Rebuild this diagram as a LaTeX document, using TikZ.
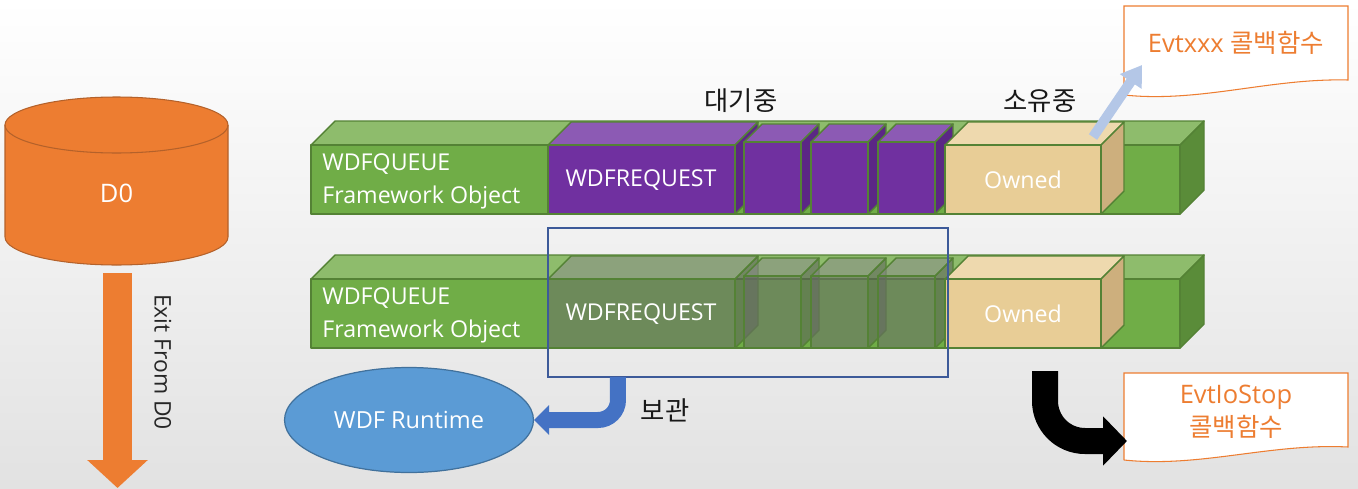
\documentclass[tikz,border=0pt]{standalone}
\usepackage{fontspec}
\setmainfont{Open Sans}
\newfontfamily\kr{Noto Sans CJK KR}
\usetikzlibrary{arrows.meta,shapes.geometric,positioning}

\definecolor{bggray}{HTML}{E2E2E2}
\definecolor{dorange}{HTML}{ED7D31}
\definecolor{dorangeline}{HTML}{B4612A}
\definecolor{qgreen}{HTML}{70AD47}
\definecolor{qgreentop}{HTML}{8EBC6C}
\definecolor{qgreenside}{HTML}{5A8C39}
\definecolor{qline}{HTML}{548235}
\definecolor{rpurple}{HTML}{7030A0}
\definecolor{rpurpletop}{HTML}{8C5AB4}
\definecolor{rpurpleside}{HTML}{5B2785}
\definecolor{ghost}{HTML}{6B6B6B}
\definecolor{ghosttop}{HTML}{8C8C8C}
\definecolor{ghostside}{HTML}{5A5A5A}
\definecolor{wood}{HTML}{E8CD96}
\definecolor{woodtop}{HTML}{EED9AE}
\definecolor{woodside}{HTML}{CDAF7D}
\definecolor{framblue}{HTML}{3D5A99}
\definecolor{rtblue}{HTML}{5B9BD5}
\definecolor{rtline}{HTML}{41719C}
\definecolor{keepblue}{HTML}{4472C4}
\definecolor{callblue}{HTML}{B4C7E7}
\definecolor{doctext}{HTML}{ED7D31}

% box with front, top and side face: style, x, y, width, height, depth, colours
\newcommand{\qbox}[9]{%
  \filldraw[#1, fill=#8] (#2,#3+#5) -- ++(#6,#6) -- ++(#4,0) -- ++(-#6,-#6) -- cycle;
  \filldraw[#1, fill=#9] (#2+#4,#3) -- ++(#6,#6) -- ++(0,#5) -- ++(-#6,-#6) -- cycle;
  \filldraw[#1, fill=#7] (#2,#3) rectangle ++(#4,#5);
}

\tikzset{
  qedge/.style={draw=qline, line width=0.8pt, line join=round},
  ghostedge/.style={qedge, fill opacity=0.53},
  lbl/.style={text=white, font=\fontsize{13.2}{18.8}\selectfont, inner sep=0pt},
  krlbl/.style={text=black!90, font=\kr\fontsize{15}{17}\selectfont, inner sep=0pt},
  doclbl/.style={text=doctext, font=\fontsize{14.5}{17}\selectfont, inner sep=0pt, align=center},
  docbox/.style={draw=dorange, fill=white, line width=0.6pt},
  frame/.style={draw=framblue, line width=0.7pt, inner sep=0pt, outer sep=0pt},
  exitarrow/.style={draw=dorange, line width=0.58cm, -{Triangle[width=1.18cm, length=0.56cm]}},
  keeparrow/.style={draw=keepblue, line width=0.32cm, rounded corners=0.4cm,
    -{Triangle[width=0.58cm, length=0.3cm]}},
  stoparrow/.style={draw=black, line width=0.52cm, rounded corners=0.8cm,
    -{Triangle[width=0.96cm, length=0.48cm]}},
  callarrow/.style={draw=callblue, line width=0.2cm, -{Triangle[width=0.5cm, length=0.4cm]}},
}

\begin{document}
\begin{tikzpicture}[x=0.02cm, y=0.02cm]
    \useasboundingbox (0,0) rectangle (1358,488);
    \shade[top color=white, middle color=white, bottom color=bggray] (0,0) rectangle (1358,488);

    % D0 cylinder
    \filldraw[fill=dorange, draw=dorangeline, line width=0.6pt]
      (5,363) -- (5,251) arc[start angle=180, end angle=360, x radius=111.5, y radius=28]
      -- (228,363) arc[start angle=0, end angle=180, x radius=111.5, y radius=28] -- cycle;
    \draw[draw=dorangeline, line width=0.6pt]
      (5,363) arc[start angle=180, end angle=360, x radius=111.5, y radius=28];
    \node[lbl, font=\fontsize{14.5}{16}\selectfont] (d0) at (116.5,295) {D0};

    \coordinate (exitfrom) at (117.5,215);
    \coordinate (exitto) at (117.5,0);
    \draw[exitarrow] (exitfrom) -- (exitto);
    \node[text=black!85, font=\fontsize{13}{15}\selectfont, rotate=-90] (exitlbl) at (163,126) {Exit From D0};

    % first queue
    \qbox{qedge}{311}{274}{869}{69}{24}{qgreen}{qgreentop}{qgreenside}
    \qbox{qedge}{548}{274}{187}{69}{23}{rpurple}{rpurpletop}{rpurpleside}
    \foreach \x in {744,811,878} {
      \qbox{qedge}{\x}{274}{57}{72}{18}{rpurple}{rpurpletop}{rpurpleside}
    }
    \qbox{qedge}{945}{274}{156}{69}{23}{wood}{woodtop}{woodside}

    \node[lbl, anchor=west, align=left] (queue1) at (322,307) {WDFQUEUE\\Framework Object};
    \node[lbl] (req1) at (641,308) {WDFREQUEST};
    \node[lbl] (owned1) at (1023,308) {Owned};

    \node[krlbl] (waiting) at (741,387) {대기중};
    \node[krlbl] (owning) at (1040,387) {소유중};

    % second queue
    \qbox{qedge}{311}{140}{869}{69}{24}{qgreen}{qgreentop}{qgreenside}
    \qbox{ghostedge}{548}{140}{187}{69}{23}{ghost}{ghosttop}{ghostside}
    \foreach \x in {744,811,878} {
      \qbox{ghostedge}{\x}{140}{57}{72}{18}{ghost}{ghosttop}{ghostside}
    }
    \qbox{qedge}{945}{140}{156}{69}{23}{wood}{woodtop}{woodside}

    \node[lbl, anchor=west, align=left] (queue2) at (322,173) {WDFQUEUE\\Framework Object};
    \node[lbl] (req2) at (641,174) {WDFREQUEST};
    \node[lbl] (owned2) at (1023,174) {Owned};

    \node[frame, minimum width=8cm, minimum height=2.98cm, anchor=south west] (frame) at (548,111) {};

    % runtime
    \node[ellipse, draw=rtline, fill=rtblue, line width=0.7pt, minimum width=4.98cm,
      minimum height=2.1cm, inner sep=0pt, text=white, font=\fontsize{13.4}{15}\selectfont]
      (runtime) at (409,68) {WDF Runtime};
    \draw[keeparrow] ([xshift=1.4cm]frame.south west) |- (runtime.east);
    \node[krlbl] (keep) at (665,78) {보관};

    % callbacks
    \draw[docbox] (1124,393) -- (1124,482) -- (1348,482) -- (1348,408)
      .. controls (1270,410) and (1200,385) .. (1124,393);
    \node[doclbl] (evtx) at (1236,445) {Evtxxx {\kr 콜백함수}};
    \coordinate (ownedtop) at (1093,351);
    \coordinate (calltip) at (1142,423);
    \draw[callarrow] (ownedtop) -- (calltip);

    \draw[docbox] (1124,28) -- (1124,115) -- (1348,115) -- (1348,41)
      .. controls (1270,45) and (1200,20) .. (1124,28);
    \node[doclbl, font=\fontsize{14.5}{19}\selectfont] (iostop) at (1236,76) {EvtIoStop\\{\kr 콜백함수}};
    \coordinate (stopfrom) at (1045,117);
    \coordinate (stopto) at (1127,47);
    \draw[stoparrow] (stopfrom) |- (stopto);
\end{tikzpicture}
\end{document}
